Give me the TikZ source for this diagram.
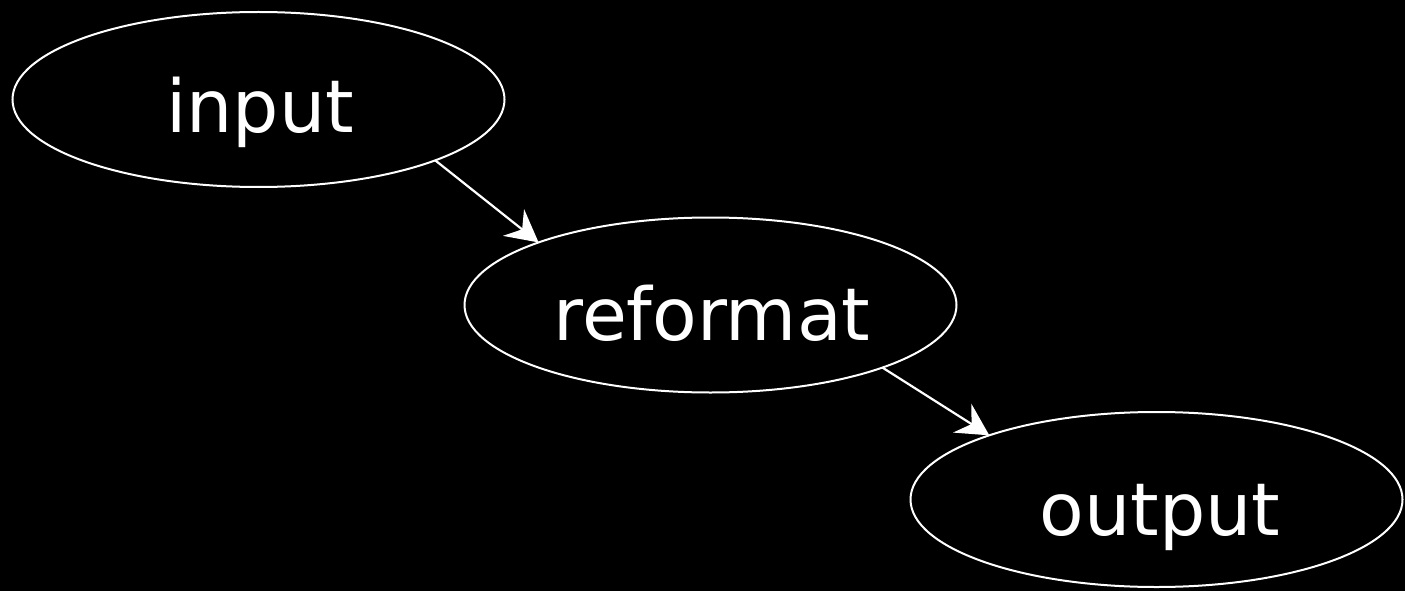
\documentclass[tikz,border=0pt]{standalone}
\usepackage{fontspec}
\setmainfont{DejaVu Sans}
\usetikzlibrary{shapes.geometric,arrows.meta}
\begin{document}
\begin{tikzpicture}[x=1pt,y=-1pt,
  blob/.style={ellipse,draw=white,line width=2pt,minimum width=492pt,minimum height=175pt,inner sep=0pt,outer sep=0pt},
  lbl/.style={anchor=base,text=white,inner sep=0pt,font=\fontsize{73}{88}\selectfont},
  link/.style={draw=white,line width=2.2pt,-{Stealth[length=32pt,width=34pt,inset=11pt]}}]
\fill[black] (0,0) rectangle (1405,591);
\useasboundingbox (0,0) rectangle (1405,591);
\node[blob] (input) at (258.5,99.5) {};
\node[blob] (reformat) at (710.5,305) {};
\node[blob] (output) at (1156.5,499.5) {};
\node[lbl] (tinput) at (260,132) {input};
\node[lbl] (treformat) at (712,340) {reformat};
\node[lbl] (toutput) at (1160,535) {output};
\draw[link] (input.-19.2) -- (reformat.160.5);
\draw[link] (reformat.-20.1) -- (output.159.7);
\end{tikzpicture}
\end{document}
